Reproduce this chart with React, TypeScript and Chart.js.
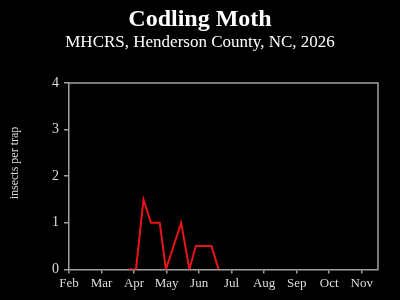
import React, { useEffect, useRef } from "react";
import { Chart, registerables } from "chart.js";

Chart.register(...registerables);

const monthLabels = ["Feb", "Mar", "Apr", "May", "Jun", "Jul", "Aug", "Sep", "Oct", "Nov"];
// x in months since Feb 1
const sampleX = [1.83, 2.06, 2.29, 2.52, 2.79, 2.98, 3.45, 3.7, 3.9, 4.38, 4.6];
const insectsPerTrap = [0, 0, 1.5, 1, 1, 0, 1, 0, 0.5, 0.5, 0];
const yTicks = [0, 1, 2, 3, 4];
const titleText = "Codling Moth";
const subtitleText = "MHCRS, Henderson County, NC, 2026";
const yTitleText = "insects per trap";

const SERIF = "'Liberation Serif', 'DejaVu Serif', serif";
const AXIS = "#a0a0a0";

const decor = {
  id: "decor",
  afterDraw(chart: any) {
    const { ctx, chartArea: a } = chart;
    ctx.save();
    ctx.strokeStyle = AXIS;
    ctx.lineWidth = 1.5;
    ctx.beginPath();
    ctx.moveTo(a.left, a.top);
    ctx.lineTo(a.right, a.top);
    ctx.lineTo(a.right, a.bottom);
    ctx.stroke();

    ctx.fillStyle = "#ffffff";
    ctx.textAlign = "center";
    ctx.textBaseline = "middle";
    ctx.font = `bold 24px ${SERIF}`;
    ctx.fillText(titleText, 200, 20);
    ctx.font = `17px ${SERIF}`;
    ctx.fillText(subtitleText, 200, 43);

    ctx.fillStyle = "#dddddd";
    ctx.font = `12px ${SERIF}`;
    ctx.translate(15, 163);
    ctx.rotate(-Math.PI / 2);
    ctx.fillText(yTitleText, 0, 0);
    ctx.restore();
  },
};

export default function App() {
  const ref = useRef<HTMLCanvasElement>(null);
  useEffect(() => {
    document.body.style.margin = "0";
    document.body.style.background = "#000";
    const chart = new Chart(ref.current!, {
      type: "line",
      data: {
        datasets: [
          {
            data: sampleX.map((x, i) => ({ x, y: insectsPerTrap[i] })),
            borderColor: "#e8141c",
            borderWidth: 2,
            pointRadius: 0,
            tension: 0,
            fill: false,
          },
        ],
      },
      options: {
        animation: false,
        responsive: false,
        layout: { padding: { left: 0, right: 22, top: 83, bottom: 7 } },
        plugins: {
          legend: { display: false },
          tooltip: { enabled: false },
          title: { display: false },
          subtitle: { display: false },
        },
        scales: {
          x: {
            type: "linear",
            min: 0,
            max: 9.5,
            afterBuildTicks: (scale: any) => {
              scale.ticks = monthLabels.map((_, i) => ({ value: i }));
            },
            ticks: {
              color: "#dddddd",
              font: { family: SERIF, size: 13 },
              callback: (v: any) => monthLabels[v] ?? "",
              maxRotation: 0,
              autoSkip: false,
              padding: 2,
            },
            grid: { drawOnChartArea: false, color: AXIS, tickLength: 4, lineWidth: 1.5 },
            border: { color: AXIS, width: 1.5 },
          },
          y: {
            min: 0,
            max: 4,
            afterBuildTicks: (scale: any) => {
              scale.ticks = yTicks.map((v) => ({ value: v }));
            },
            afterFit: (scale: any) => {
              scale.width = 69;
            },
            ticks: {
              color: "#dddddd",
              font: { family: SERIF, size: 14 },
              padding: 5,
            },
            grid: { drawOnChartArea: false, color: AXIS, tickLength: 5, lineWidth: 1.5 },
            border: { color: AXIS, width: 1.5 },
          },
        },
      },
      plugins: [decor],
    });
    return () => chart.destroy();
  }, []);
  return (
    <div style={{ width: 400, height: 300, background: "#000" }}>
      <canvas ref={ref} width={400} height={300} style={{ display: "block", background: "#000" }} />
    </div>
  );
}
